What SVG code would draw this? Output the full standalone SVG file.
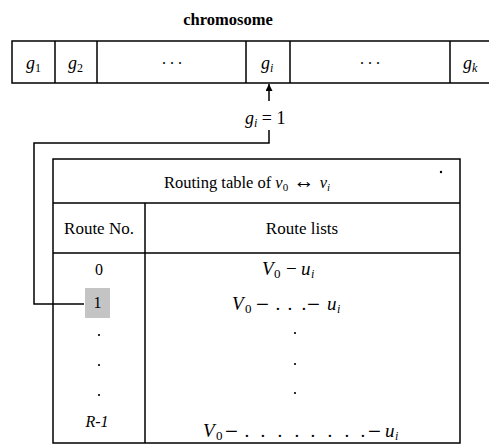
<svg xmlns="http://www.w3.org/2000/svg" width="489" height="444" viewBox="0 0 489 444">
<defs>
<marker id="ah" viewBox="0 0 10 10" refX="10" refY="5" markerWidth="7" markerHeight="7" orient="auto" markerUnits="userSpaceOnUse">
<path d="M0,0 L10,5 L0,10 Z" fill="#000"/>
</marker>
<style>
.ln{stroke:#000;stroke-width:1.5;fill:none}
.t{font-family:"Liberation Serif","Times New Roman",serif;fill:#000}
.i{font-style:italic}
.dot{fill:#000}
</style>
</defs>
<rect width="489" height="444" fill="#fff"/>
<text class="t" x="228" y="25" font-size="16.5" font-weight="bold" text-anchor="middle">chromosome</text>

<g id="chromosome">
<path class="ln" d="M489,41 H12 V83 H489 M55,41 V83 M97,41 V83 M246,41 V83 M290,41 V83 M450,41 V83"/>
<text class="t i" x="26" y="69" font-size="18">g<tspan font-size="12" font-style="normal" dy="3">1</tspan></text>
<text class="t i" x="68" y="69" font-size="18">g<tspan font-size="12" font-style="normal" dy="3">2</tspan></text>
<text class="t" x="172" y="64" font-size="16" text-anchor="middle">. . .</text>
<text class="t i" x="261" y="69" font-size="18">g<tspan font-size="12" dy="3">i</tspan></text>
<text class="t" x="370" y="64" font-size="16" text-anchor="middle">. . .</text>
<text class="t i" x="463" y="69" font-size="18">g<tspan font-size="12" dy="3">k</tspan></text>
</g>

<g id="gi-label">
<text class="t" x="245" y="124" font-size="18"><tspan font-style="italic">g</tspan><tspan font-size="12" font-style="italic" dy="3">i</tspan><tspan dy="-3"> = 1</tspan></text>
</g>

<g id="routing-table">
<path class="ln" d="M53,159 H460 V443 H53 Z M53,203 H460 M53,253 H460 M145,203 V443"/>
<text class="t" x="164" y="188" font-size="16.5">Routing table of <tspan font-style="italic">v</tspan><tspan font-size="11" dy="3">0</tspan><tspan dy="-3" font-size="21"> ↔ </tspan><tspan font-style="italic">v</tspan><tspan font-size="11" font-style="italic" dy="3">i</tspan></text>
<circle cx="441" cy="172" r="1.2" class="dot"/>
<text class="t" x="99" y="234" font-size="17" text-anchor="middle">Route No.</text>
<text class="t" x="302" y="234" font-size="17" text-anchor="middle">Route lists</text>
<text class="t" x="99" y="275" font-size="16" text-anchor="middle">0</text>
<rect x="85" y="288" width="25" height="30" fill="#c4c4c4"/>
<text class="t" x="97.5" y="308" font-size="16" text-anchor="middle">1</text>
<circle cx="99" cy="335" r="1.1" class="dot"/>
<circle cx="99" cy="365" r="1.1" class="dot"/>
<circle cx="99" cy="395" r="1.1" class="dot"/>
<text class="t i" x="97" y="427" font-size="16" text-anchor="middle">R-1</text>

<text class="t" y="275" font-size="19"><tspan x="262" font-style="italic">V</tspan><tspan x="274" dy="3" font-size="13">0</tspan><tspan x="286" dy="-3">−</tspan><tspan x="301" font-style="italic">u</tspan><tspan x="311" dy="3" font-size="12" font-style="italic">i</tspan></text>

<text class="t" y="310" font-size="19"><tspan x="232" font-style="italic">V</tspan><tspan x="245" dy="3" font-size="13">0</tspan><tspan x="256" dy="-1.5" font-size="23">−</tspan><tspan x="275.6 287.6 301.6" dy="-1.5">...</tspan><tspan x="307" dy="1.5" font-size="23">−</tspan><tspan x="327" dy="-1.5" font-style="italic">u</tspan><tspan x="337" dy="3" font-size="12" font-style="italic">i</tspan></text>

<circle cx="295" cy="333" r="1.1" class="dot"/>
<circle cx="295" cy="364" r="1.1" class="dot"/>
<circle cx="295" cy="393" r="1.1" class="dot"/>

<text class="t" y="437" font-size="19"><tspan x="203" font-style="italic">V</tspan><tspan x="216" dy="3" font-size="13">0</tspan><tspan x="225" dy="-1.5" font-size="23">−</tspan><tspan x="244.6 260.6 277.6 294.6 310.6 327.6 344.6 360.6" dy="-1.5">........</tspan><tspan x="368" dy="1.5" font-size="23">−</tspan><tspan x="385" dy="-1.5" font-style="italic">u</tspan><tspan x="395" dy="3" font-size="12" font-style="italic">i</tspan></text>
</g>

<g id="connectors">
<path class="ln" d="M269,101 V84" marker-end="url(#ah)"/>
<path class="ln" d="M269,130 V143 H34 V304 H84"/>
</g>
</svg>
